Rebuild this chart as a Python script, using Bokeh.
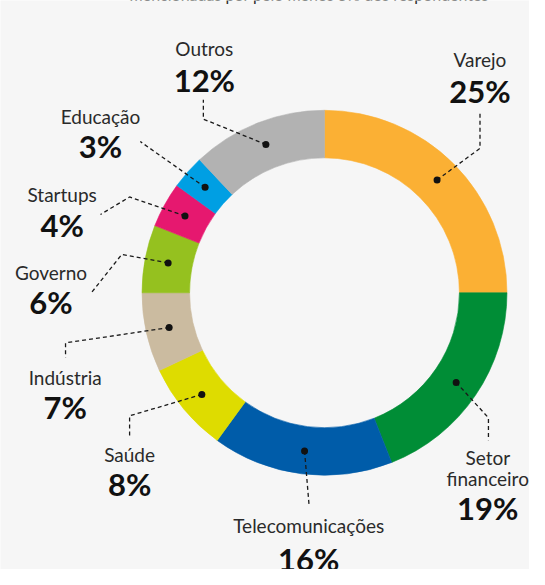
import math
from bokeh.plotting import figure
from bokeh.models import Range1d, ColumnDataSource
from bokeh.core.properties import value
from bokeh.embed import file_html
from bokeh.resources import INLINE

# ---------------- data ----------------
categories = ["Varejo", "Setor financeiro", "Telecomunicações", "Saúde", "Indústria",
              "Governo", "Startups", "Educação", "Outros"]
shares = [25, 19, 16, 8, 7, 6, 4, 3, 12]
colors = ["#FBB034", "#008D36", "#005CA9", "#DEDC00", "#CBBBA0",
          "#95C11F", "#E6186F", "#009FE3", "#B2B2B2"]
subtitle = "mencionadas por pelo menos 5% dos respondentes"

# ---------------- layout (reference pixels, y pointing down) ----------------
W, H = 545, 585
CX, CY = 333.8, 300.5
R_OUT, R_IN, R_DOT = 188, 139, 164
label_x = [494, 502, 317.5, 133, 66.6, 52, 63.5, 103, 210]
name_base = [70, 479.3, 548.3, 476, 396.7, 288.3, 208.3, 128.3, 58.3]
pct_base = [105, 533.3, 586, 509.3, 430, 322, 243.3, 162, 93.3]
name_lines = [[c] for c in categories]
name_lines[1] = ["Setor", "financeiro"]
LINE_GAP = 20.7
NAME_SHIFT, PCT_SHIFT, SUB_SHIFT = 9.0, 12.0, 7.5   # renderer baseline correction
elbows = [[(494, 152), (494, 116)],
          [(502.7, 429), (502.7, 452)],
          [(318, 520)],
          [(133, 427), (133, 448)],
          [(67, 352), (67, 367)],
          [(125, 261), (94, 300)],
          [(133, 202), (103, 220)],
          [(144, 145)],
          [(209, 122), (209, 102)]]

BG = "#F6F6F6"
FONT = value("Lato")


def fy(y):
    return H - y


p = figure(width=529, height=569, x_range=Range1d(0, W), y_range=Range1d(0, H),
           output_backend="svg", toolbar_location=None, min_border=0)
p.axis.visible = False
p.grid.visible = False
p.outline_line_color = None
p.background_fill_color = BG
p.border_fill_color = BG

# ring
total = float(sum(shares))
starts, ends, mids = [], [], []
cum = 0.0
for v in shares:
    a0 = math.pi / 2 - 2 * math.pi * cum / total
    cum += v
    a1 = math.pi / 2 - 2 * math.pi * cum / total
    starts.append(a0)
    ends.append(a1)
    mids.append((a0 + a1) / 2)

src = ColumnDataSource(dict(start=starts, end=ends, color=colors, cat=categories, share=shares))
p.annular_wedge(x=CX, y=fy(CY), inner_radius=R_IN, outer_radius=R_OUT,
                start_angle="start", end_angle="end", direction="clock",
                fill_color="color", line_color="color", line_width=0.6, source=src)

# leader lines and dots
dot_x = [CX + R_DOT * math.cos(m) for m in mids]
dot_y = [fy(CY) + R_DOT * math.sin(m) for m in mids]
xs, ys = [], []
for i in range(len(categories)):
    xs.append([dot_x[i]] + [e[0] for e in elbows[i]])
    ys.append([dot_y[i]] + [fy(e[1]) for e in elbows[i]])
p.multi_line(xs=xs, ys=ys, line_color="#1A1A1A", line_width=1.3, line_dash="4 3")
p.scatter(x=dot_x, y=dot_y, size=7, fill_color="#111111", line_color=None)

# labels
nx, ny, nt = [], [], []
for i, lines in enumerate(name_lines):
    for j, t in enumerate(lines):
        nx.append(label_x[i])
        ny.append(fy(name_base[i] + j * LINE_GAP - NAME_SHIFT))
        nt.append(t)
p.text(x=nx, y=ny, text=nt, text_align="center", text_baseline="alphabetic",
       text_font=FONT, text_font_size="19px", text_color="#2A2A2A")
p.text(x=label_x, y=[fy(b - PCT_SHIFT) for b in pct_base], text=[f"{v}%" for v in shares],
       text_align="center", text_baseline="alphabetic",
       text_font=FONT, text_font_size="31px", text_font_style="bold",
       text_color="#111111")

# subtitle, cut off at the top edge as in the reference
p.text(x=[318], y=[fy(1.5 - SUB_SHIFT)], text=[subtitle], text_align="center",
       text_baseline="alphabetic", text_font=FONT, text_font_size="16px",
       text_color="#2A2A2A")

open("out.html", "w").write(file_html(p, INLINE))
